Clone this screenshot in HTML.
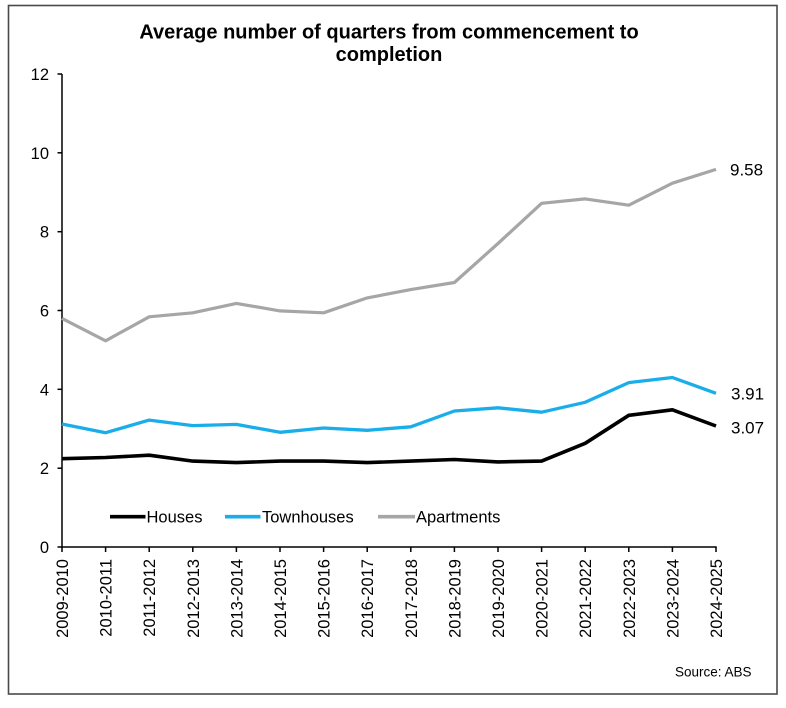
<!DOCTYPE html>
<html>
<head>
<meta charset="utf-8">
<style>
  html, body { margin: 0; padding: 0; background: #fff; }
  svg { display: block; }
  text { font-family: "Liberation Sans", Arial, sans-serif; fill: #000; }
</style>
</head>
<body>
<svg width="786" height="708" viewBox="0 0 786 708" xmlns="http://www.w3.org/2000/svg">
  <rect x="0" y="0" width="786" height="708" fill="#fff"/>
  <!-- frame -->
  <rect x="8.5" y="5.5" width="768.5" height="688.5" fill="none" stroke="#4a4a4a" stroke-width="1.6"/>

  <!-- title -->
  <text x="389" y="38.5" font-size="20" font-weight="bold" text-anchor="middle">Average number of quarters from commencement to</text>
  <text x="389" y="61" font-size="20" font-weight="bold" text-anchor="middle">completion</text>

  <!-- y axis -->
  <g stroke="#000" stroke-width="1.5">
    <line x1="62" y1="74" x2="62" y2="547.5"/>
    <line x1="57.5" y1="74" x2="62" y2="74"/>
    <line x1="57.5" y1="152.8" x2="62" y2="152.8"/>
    <line x1="57.5" y1="231.7" x2="62" y2="231.7"/>
    <line x1="57.5" y1="310.5" x2="62" y2="310.5"/>
    <line x1="57.5" y1="389.3" x2="62" y2="389.3"/>
    <line x1="57.5" y1="468.2" x2="62" y2="468.2"/>
    <line x1="57.5" y1="547" x2="62" y2="547"/>
  </g>
  <g font-size="16.5" text-anchor="end">
    <text x="49" y="80">12</text>
    <text x="49" y="158.8">10</text>
    <text x="49" y="237.7">8</text>
    <text x="49" y="316.5">6</text>
    <text x="49" y="395.3">4</text>
    <text x="49" y="474.2">2</text>
    <text x="49" y="553">0</text>
  </g>

  <!-- x axis -->
  <g stroke="#000" stroke-width="1.5">
    <line x1="61.3" y1="547" x2="716.7" y2="547"/>
    <line x1="62" y1="547" x2="62" y2="552"/>
    <line x1="105.6" y1="547" x2="105.6" y2="552"/>
    <line x1="149.2" y1="547" x2="149.2" y2="552"/>
    <line x1="192.8" y1="547" x2="192.8" y2="552"/>
    <line x1="236.4" y1="547" x2="236.4" y2="552"/>
    <line x1="280" y1="547" x2="280" y2="552"/>
    <line x1="323.6" y1="547" x2="323.6" y2="552"/>
    <line x1="367.2" y1="547" x2="367.2" y2="552"/>
    <line x1="410.8" y1="547" x2="410.8" y2="552"/>
    <line x1="454.4" y1="547" x2="454.4" y2="552"/>
    <line x1="498" y1="547" x2="498" y2="552"/>
    <line x1="541.6" y1="547" x2="541.6" y2="552"/>
    <line x1="585.2" y1="547" x2="585.2" y2="552"/>
    <line x1="628.8" y1="547" x2="628.8" y2="552"/>
    <line x1="672.4" y1="547" x2="672.4" y2="552"/>
    <line x1="716" y1="547" x2="716" y2="552"/>
  </g>
  <g font-size="16.5" text-anchor="end">
    <text transform="translate(68,559) rotate(-90)">2009-2010</text>
    <text transform="translate(111.6,559) rotate(-90)">2010-2011</text>
    <text transform="translate(155.2,559) rotate(-90)">2011-2012</text>
    <text transform="translate(198.8,559) rotate(-90)">2012-2013</text>
    <text transform="translate(242.4,559) rotate(-90)">2013-2014</text>
    <text transform="translate(286,559) rotate(-90)">2014-2015</text>
    <text transform="translate(329.6,559) rotate(-90)">2015-2016</text>
    <text transform="translate(373.2,559) rotate(-90)">2016-2017</text>
    <text transform="translate(416.8,559) rotate(-90)">2017-2018</text>
    <text transform="translate(460.4,559) rotate(-90)">2018-2019</text>
    <text transform="translate(504,559) rotate(-90)">2019-2020</text>
    <text transform="translate(547.6,559) rotate(-90)">2020-2021</text>
    <text transform="translate(591.2,559) rotate(-90)">2021-2022</text>
    <text transform="translate(634.8,559) rotate(-90)">2022-2023</text>
    <text transform="translate(678.4,559) rotate(-90)">2023-2024</text>
    <text transform="translate(722,559) rotate(-90)">2024-2025</text>
  </g>

  <!-- series -->
  <g fill="none" stroke-linejoin="round" stroke-linecap="butt">
    <polyline stroke="#A6A6A6" stroke-width="3.2" points="62,318.4 105.6,340.8 149.2,316.8 192.8,312.8 236.4,303.4 280,310.9 323.6,312.8 367.2,297.9 410.8,289.6 454.4,282.5 498,243.5 541.6,203.3 585.2,198.9 628.8,205.2 672.4,183.2 716,169.4"/>
    <polyline stroke="#19AEEA" stroke-width="3.3" points="62,424 105.6,432.7 149.2,420.1 192.8,425.6 236.4,424.4 280,432.3 323.6,428 367.2,430.3 410.8,426.8 454.4,411 498,407.8 541.6,412.2 585.2,402.3 628.8,382.6 672.4,377.5 716,393.3"/>
    <polyline stroke="#000" stroke-width="3.6" points="62,458.7 105.6,457.5 149.2,455.2 192.8,461.1 236.4,462.6 280,461.1 323.6,461.1 367.2,462.6 410.8,461.1 454.4,459.5 498,461.9 541.6,461.1 585.2,443.3 628.8,415.3 672.4,409.8 716,426"/>
  </g>

  <!-- end labels -->
  <g font-size="17">
    <text x="730" y="175.5">9.58</text>
    <text x="731" y="399.5">3.91</text>
    <text x="731" y="433.5">3.07</text>
  </g>

  <!-- legend -->
  <g stroke-width="3.6">
    <line x1="110" y1="516.7" x2="145.5" y2="516.7" stroke="#000"/>
    <line x1="225" y1="516.7" x2="260.5" y2="516.7" stroke="#19AEEA"/>
    <line x1="378" y1="516.7" x2="415" y2="516.7" stroke="#A6A6A6"/>
  </g>
  <g font-size="16.5">
    <text x="146.5" y="522.7">Houses</text>
    <text x="262" y="522.7">Townhouses</text>
    <text x="416" y="522.7">Apartments</text>
  </g>

  <!-- source -->
  <text x="675" y="676.5" font-size="13.5">Source: ABS</text>
</svg>
</body>
</html>
